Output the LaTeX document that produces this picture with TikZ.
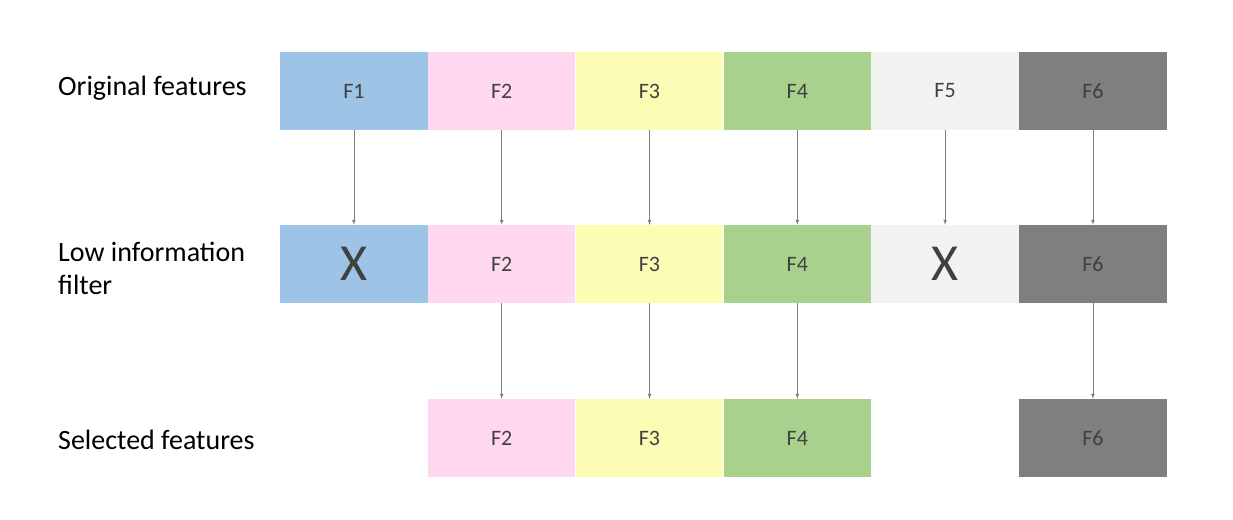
\documentclass[tikz,border=0pt]{standalone}
\usepackage{fontspec}
\setmainfont{Carlito}
\usetikzlibrary{positioning}
\definecolor{cA}{HTML}{9DC3E6}
\definecolor{cB}{HTML}{FFD7EE}
\definecolor{cC}{HTML}{FCFCB4}
\definecolor{cD}{HTML}{A9D18E}
\definecolor{cE}{HTML}{F2F2F2}
\definecolor{cF}{HTML}{7F7F7F}
\definecolor{txt}{HTML}{404040}
\begin{document}
\begin{tikzpicture}[
        x=1pt, y=-1pt,
        feat/.style={fill=#1,minimum width=147.5pt,minimum height=78pt,inner sep=0pt,
            text=txt,font=\fontsize{22}{22}\selectfont},
        lbl/.style={anchor=west,align=left,inner sep=0pt,font=\fontsize{28}{33}\selectfont},
        arr/.style={draw=cF,-latex,line width=0.7pt}
    ]
    \useasboundingbox (0,0) rectangle (1233,519);
    % row labels
    \node[lbl] (l1) at (58,88) {Original features};
    \node[lbl] (l2) at (58,268) {Low information\\filter};
    \node[lbl] (l3) at (58,440) {Selected features};
    % boxes
    \foreach \i/\c in {1/cA,2/cB,3/cC,4/cD,5/cE,6/cF}{
        \node[feat=\c] (o\i) at (280+147.8*\i-73.9,91) {F\i};
    }
    \node[feat=cA,font=\fontsize{52}{52}\selectfont] (m1) at (o1|-0,264) {X};
    \node[feat=cE,font=\fontsize{52}{52}\selectfont] (m5) at (o5|-0,264) {X};
    \foreach \i/\c in {2/cB,3/cC,4/cD,6/cF}{
        \node[feat=\c] (m\i) at (o\i|-0,264) {F\i};
        \node[feat=\c] (s\i) at (o\i|-0,438) {F\i};
    }
    % arrows
    \foreach \i in {1,...,6}{
        \draw[arr] (o\i) -- (m\i);
    }
    \foreach \i in {2,3,4,6}{
        \draw[arr] (m\i) -- (s\i);
    }
\end{tikzpicture}
\end{document}
